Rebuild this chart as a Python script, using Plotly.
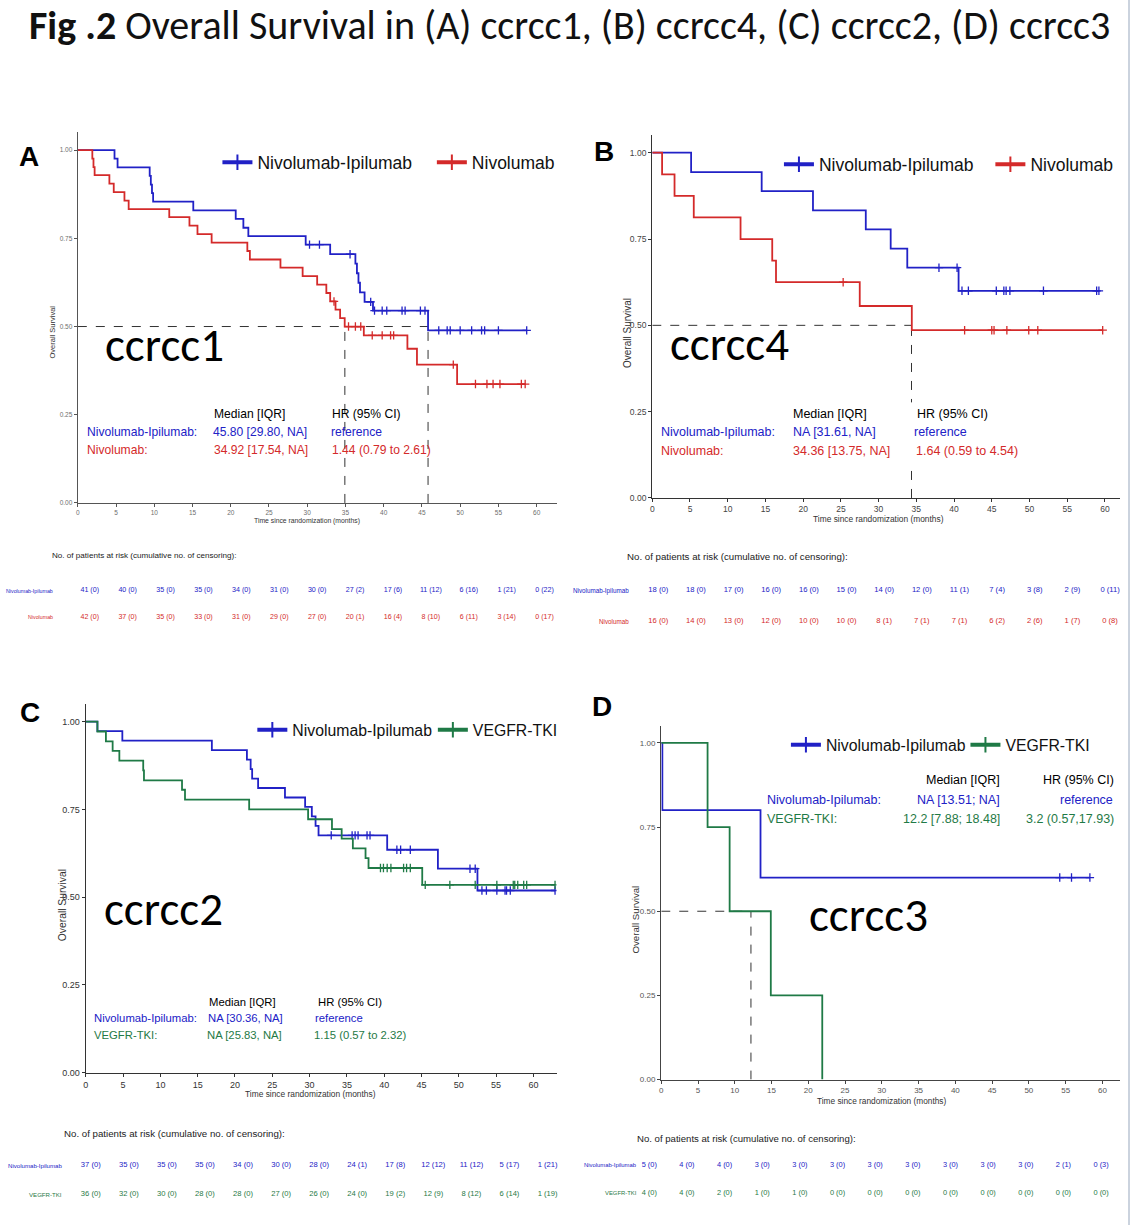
import plotly.graph_objects as go

W, H = 1133, 1230
FONT = "Liberation Sans, Arial, sans-serif"
CAL = "Carlito, Open Sans, sans-serif"

BLUE = "#2121C6"
RED = "#D42A2A"
GREEN = "#1F7A46"

# ---------------- data ----------------
risk_times = [0, 5, 10, 15, 20, 25, 30, 35, 40, 45, 50, 55, 60]

# (A) ccrcc1
A_ni_time = [0, 4.8, 5.2, 9.4, 9.55, 9.7, 9.85, 15.1, 20.65, 21.65, 22.3, 29.8, 33.0,
             36.3, 36.5, 36.7, 36.9, 37.5, 38.6, 45.8]
A_ni_surv = [1, 0.976, 0.951, 0.927, 0.902, 0.878, 0.854, 0.829, 0.805, 0.780, 0.756, 0.732,
             0.705, 0.678, 0.651, 0.624, 0.597, 0.570, 0.545, 0.489]
A_ni_end = 58.7
A_ni_cens = [30.3, 31.6, 35.6, 38.3, 38.8, 39.8, 40.4, 42.4, 42.8, 44.8, 45.4, 47.2, 48.3,
             48.7, 50.0, 51.5, 52.8, 53.2, 55.0, 58.7]
A_nv_time = [0, 1.9, 2.05, 2.2, 4.13, 4.7, 6.1, 6.65, 11.96, 14.6, 15.65, 17.5, 22.17, 22.5,
             26.5, 29.4, 31.3, 32.5, 33.0, 33.7, 34.3, 34.9, 37.4, 43.1, 44.35, 49.6]
A_nv_surv = [1, 0.976, 0.952, 0.929, 0.905, 0.881, 0.857, 0.833, 0.810, 0.786, 0.762, 0.738,
             0.714, 0.690, 0.667, 0.643, 0.619, 0.595, 0.571, 0.548, 0.524, 0.500, 0.475,
             0.437, 0.392, 0.337]
A_nv_end = 58.5
A_nv_cens = [33.5, 35.4, 36.3, 37.0, 38.5, 39.8, 40.9, 41.3, 49.1, 52.0, 53.5, 54.3, 55.2,
             58.0, 58.5]
A_median = [45.80, 34.92]
A_risk_ni = [41, 40, 35, 35, 34, 31, 30, 27, 17, 11, 6, 1, 0]
A_cens_ni = [0, 0, 0, 0, 0, 0, 0, 2, 6, 12, 16, 21, 22]
A_risk_nv = [42, 37, 35, 33, 31, 29, 27, 20, 16, 8, 6, 3, 0]
A_cens_nv = [0, 0, 0, 0, 0, 0, 0, 1, 4, 10, 11, 14, 17]

# (B) ccrcc4
B_ni_time = [0, 5.15, 14.5, 21.3, 28.3, 31.6, 33.8, 40.6]
B_ni_surv = [1, 0.944, 0.889, 0.833, 0.778, 0.722, 0.667, 0.600]
B_ni_end = 59.3
B_ni_cens = [38.0, 40.4, 41.05, 41.9, 45.6, 46.6, 46.9, 47.4, 51.85, 58.9, 59.2]
B_nv_time = [0, 1.3, 2.95, 5.5, 11.7, 15.9, 16.4, 27.5, 34.4]
B_nv_surv = [1, 0.9375, 0.875, 0.8125, 0.75, 0.6875, 0.625, 0.556, 0.486]
B_nv_end = 59.7
B_nv_cens = [25.3, 41.4, 45.0, 45.3, 47.0, 49.9, 51.1, 59.7]
B_median = [34.36]
B_risk_ni = [18, 18, 17, 16, 16, 15, 14, 12, 11, 7, 3, 2, 0]
B_cens_ni = [0, 0, 0, 0, 0, 0, 0, 0, 1, 4, 8, 9, 11]
B_risk_nv = [16, 14, 13, 12, 10, 10, 8, 7, 7, 6, 2, 1, 0]
B_cens_nv = [0, 0, 0, 0, 0, 0, 1, 1, 1, 2, 6, 7, 8]

# (C) ccrcc2
C_ni_time = [0, 1.56, 4.9, 16.9, 21.6, 22.1, 22.3, 23.1, 26.7, 29.4, 30.3, 30.8, 31.2,
             40.4, 47.2, 52.5]
C_ni_surv = [1, 0.973, 0.946, 0.919, 0.892, 0.865, 0.838, 0.811, 0.784, 0.757, 0.730,
             0.703, 0.676, 0.635, 0.581, 0.519]
C_ni_end = 62.9
C_ni_cens = [32.9, 35.7, 36.1, 36.5, 37.7, 38.1, 41.7, 42.2, 43.5, 51.5, 52.2, 53.1, 53.7,
             55.1, 56.2, 56.4, 56.9, 62.9]
C_vt_time = [0, 1.56, 2.7, 3.6, 4.5, 7.7, 7.8, 12.9, 13.3, 21.9, 29.8, 33.0, 34.3, 35.8,
             37.5, 37.9, 45.1]
C_vt_surv = [1, 0.972, 0.944, 0.917, 0.889, 0.861, 0.833, 0.806, 0.778, 0.750, 0.722,
             0.694, 0.667, 0.639, 0.611, 0.583, 0.535]
C_vt_end = 62.9
C_vt_cens = [39.5, 39.9, 40.4, 40.9, 42.6, 43.0, 43.5, 45.5, 48.8, 52.2, 55.1, 57.3, 57.5,
             57.9, 58.7, 59.1, 62.9]
C_median = []
C_risk_ni = [37, 35, 35, 35, 34, 30, 28, 24, 17, 12, 11, 5, 1]
C_cens_ni = [0, 0, 0, 0, 0, 0, 0, 1, 8, 12, 12, 17, 21]
C_risk_vt = [36, 32, 30, 28, 28, 27, 26, 24, 19, 12, 8, 6, 1]
C_cens_vt = [0, 0, 0, 0, 0, 0, 0, 0, 2, 9, 12, 14, 19]

# (D) ccrcc3
D_ni_time = [0, 0.15, 13.5]
D_ni_surv = [1, 0.8, 0.6]
D_ni_end = 58.3
D_ni_cens = [54.2, 55.8, 58.3]
D_vt_time = [0, 6.3, 9.3, 14.9, 21.9]
D_vt_surv = [1, 0.75, 0.5, 0.25, 0.0]
D_vt_end = 21.9
D_vt_cens = []
D_median = [12.2]
D_risk_ni = [5, 4, 4, 3, 3, 3, 3, 3, 3, 3, 3, 2, 0]
D_cens_ni = [0, 0, 0, 0, 0, 0, 0, 0, 0, 0, 0, 1, 3]
D_risk_vt = [4, 4, 2, 1, 1, 0, 0, 0, 0, 0, 0, 0, 0]
D_cens_vt = [0, 0, 0, 0, 0, 0, 0, 0, 0, 0, 0, 0, 0]

y_ticks = [0, 0.25, 0.5, 0.75, 1.0]
y_ticktext = ["0.00", "0.25", "0.50", "0.75", "1.00"]


# ---------------- helpers ----------------
def px_x(x):
    return x / W


def px_y(y):
    return 1 - y / H


def surv_at(times, surv, t):
    val = surv[0]
    for ti, si in zip(times, surv):
        if ti <= t:
            val = si
    return val


fig = go.Figure()
annotations = []
layout_axes = {}


def ann(text, x, y, size, color="#000000", xanchor="left", family=FONT, angle=0, yanchor="middle"):
    if xanchor == "left":
        x -= 3
    elif xanchor == "right":
        x += 3
    annotations.append(dict(text=text, x=px_x(x), y=px_y(y), xref="paper", yref="paper",
                            xanchor=xanchor, yanchor=yanchor, showarrow=False, textangle=angle,
                            font=dict(size=size, color=color, family=family)))


panels = [
    dict(idx=1, x0=75, x1=555, top=133, bottom=505, xmax=62.6, ts=6.5, tc="#6e6e6e", lc="#555555"),
    dict(idx=2, x0=651, x1=1120, top=136, bottom=500, xmax=62.0, ts=8.5, tc="#444444", lc="#333333"),
    dict(idx=3, x0=83, x1=555, top=707, bottom=1077, xmax=63.1, ts=9, tc="#333333", lc="#333333"),
    dict(idx=4, x0=660, x1=1120, top=729, bottom=1084, xmax=62.4, ts=8, tc="#555555", lc="#444444"),
]

curves = {
    1: [(A_ni_time, A_ni_surv, A_ni_end, A_ni_cens, BLUE), (A_nv_time, A_nv_surv, A_nv_end, A_nv_cens, RED)],
    2: [(B_ni_time, B_ni_surv, B_ni_end, B_ni_cens, BLUE), (B_nv_time, B_nv_surv, B_nv_end, B_nv_cens, RED)],
    3: [(C_ni_time, C_ni_surv, C_ni_end, C_ni_cens, BLUE), (C_vt_time, C_vt_surv, C_vt_end, C_vt_cens, GREEN)],
    4: [(D_ni_time, D_ni_surv, D_ni_end, D_ni_cens, BLUE), (D_vt_time, D_vt_surv, D_vt_end, D_vt_cens, GREEN)],
}
medians = {1: A_median, 2: B_median, 3: C_median, 4: D_median}

for p in panels:
    i = p["idx"]
    sx = "" if i == 1 else str(i)
    xa, ya = "x" + sx, "y" + sx
    layout_axes["xaxis" + sx] = dict(
        domain=[px_x(p["x0"]), px_x(p["x1"])], range=[0, p["xmax"]], anchor=ya,
        tickvals=risk_times, showline=True, linecolor=p["lc"], linewidth=1.2,
        ticks="outside", ticklen=3, tickcolor=p["lc"], showgrid=False, zeroline=False,
        tickfont=dict(size=p["ts"], color=p["tc"], family=FONT), fixedrange=True)
    layout_axes["yaxis" + sx] = dict(
        domain=[px_y(p["bottom"]), px_y(p["top"])], range=[0, 1.05], anchor=xa,
        tickvals=y_ticks, ticktext=y_ticktext, showline=True, linecolor=p["lc"], linewidth=1.2,
        ticks="outside", ticklen=3, tickcolor=p["lc"], showgrid=False, zeroline=False,
        tickfont=dict(size=p["ts"], color=p["tc"], family=FONT), fixedrange=True)
    m = medians[i]
    if m:
        mx, my = [0, max(m), None], [0.5, 0.5, None]
        for v in m:
            mx += [v, v, None]
            my += [0, 0.5, None]
        fig.add_trace(go.Scatter(x=mx, y=my, xaxis=xa, yaxis=ya, mode="lines",
                                 line=dict(color="#333333", width=1, dash="dash"),
                                 showlegend=False, hoverinfo="skip"))
    for (t, s, end, cens, col) in curves[i]:
        fig.add_trace(go.Scatter(x=list(t) + [end], y=list(s) + [s[-1]], xaxis=xa, yaxis=ya,
                                 mode="lines", line=dict(color=col, width=1.8, shape="hv"),
                                 showlegend=False))
        if cens:
            fig.add_trace(go.Scatter(x=cens, y=[surv_at(t, s, c) for c in cens], xaxis=xa, yaxis=ya,
                                     mode="markers", marker=dict(symbol="cross-thin", size=6,
                                                                 line=dict(color=col, width=1.3)),
                                     showlegend=False))

# ---------------- legends (one per item) ----------------
legend_items = [
    ("Nivolumab-Ipilumab", BLUE, 257, 163, 17.5),
    ("Nivolumab", RED, 472, 163, 17.5),
    ("Nivolumab-Ipilumab", BLUE, 820, 165, 17.5),
    ("Nivolumab", RED, 1032, 165, 17.5),
    ("Nivolumab-Ipilumab", BLUE, 292, 733, 15.8),
    ("VEGFR-TKI", GREEN, 473, 733, 15.8),
    ("Nivolumab-Ipilumab", BLUE, 827, 748, 15.8),
    ("VEGFR-TKI", GREEN, 1007, 748, 15.8),
]
legend_layouts = {}
for k, (name, col, tx, ty, fs) in enumerate(legend_items):
    lname = "legend" if k == 0 else "legend" + str(k + 1)
    fig.add_trace(go.Scatter(x=[None], y=[None], mode="lines+markers", name=name,
                             line=dict(color=col, width=4),
                             marker=dict(symbol="cross-thin", size=11, line=dict(color=col, width=2)),
                             legend=lname, showlegend=True))
    legend_layouts[lname] = dict(x=px_x(tx - 42), y=px_y(ty), xanchor="left", yanchor="middle",
                                 orientation="h", bgcolor="rgba(0,0,0,0)", borderwidth=0,
                                 font=dict(size=fs, color="#111111", family=FONT))

# ---------------- risk tables ----------------
tables = [
    dict(idx=5, c0=87, c1=543, r1=593, r2=620, fs=7.1, lab=49, lfs=5.3,
         rows=[("Nivolumab-Ipilumab", A_risk_ni, A_cens_ni, BLUE), ("Nivolumab", A_risk_nv, A_cens_nv, RED)],
         hx=50, hy=558, hfs=8.1),
    dict(idx=6, c0=657, c1=1110, r1=593, r2=624, fs=7.6, lab=627, lfs=6.3,
         rows=[("Nivolumab-Ipilumab", B_risk_ni, B_cens_ni, BLUE), ("Nivolumab", B_risk_nv, B_cens_nv, RED)],
         hx=627, hy=559, hfs=9.7),
    dict(idx=7, c0=88, c1=546, r1=1170, r2=1199, fs=7.6, lab=58, lfs=6.1,
         rows=[("Nivolumab-Ipilumab", C_risk_ni, C_cens_ni, BLUE), ("VEGFR-TKI", C_risk_vt, C_cens_vt, GREEN)],
         hx=62, hy=1138, hfs=9.7),
    dict(idx=8, c0=648, c1=1101, r1=1170, r2=1198, fs=7.4, lab=635, lfs=5.9,
         rows=[("Nivolumab-Ipilumab", D_risk_ni, D_cens_ni, BLUE), ("VEGFR-TKI", D_risk_vt, D_cens_vt, GREEN)],
         hx=637, hy=1143, hfs=9.6),
]
header = "No. of patients at risk (cumulative no. of censoring):"
for tb in tables:
    sx = str(tb["idx"])
    xa, ya = "x" + sx, "y" + sx
    layout_axes["xaxis" + sx] = dict(domain=[px_x(tb["c0"]), px_x(tb["c1"])], range=[0, 60],
                                     anchor=ya, visible=False, fixedrange=True)
    layout_axes["yaxis" + sx] = dict(domain=[px_y(tb["r2"]), px_y(tb["r1"])], range=[0, 1],
                                     anchor=xa, visible=False, fixedrange=True)
    for r, (lab, nrisk, ncens, col) in enumerate(tb["rows"]):
        yv = 1 - r
        fig.add_trace(go.Scatter(x=risk_times, y=[yv] * len(risk_times), xaxis=xa, yaxis=ya,
                                 mode="text", text=[f"{n} ({c})" for n, c in zip(nrisk, ncens)],
                                 textposition="middle center", cliponaxis=False,
                                 textfont=dict(size=tb["fs"], color=col, family=FONT),
                                 showlegend=False, hoverinfo="skip"))
        ann(lab, tb["lab"], tb["r1"] if r == 0 else tb["r2"], tb["lfs"], col, xanchor="right")
    ann(header, tb["hx"], tb["hy"], tb["hfs"], "#222222")

# ---------------- text blocks ----------------
fa, fb, fc, fd = 12.1, 12.5, 11.3, 12.5
ann("Median [IQR]", 213, 416, fa)
ann("HR (95% CI)", 331, 416, fa)
ann("Nivolumab-Ipilumab:", 85, 434, fa, BLUE)
ann("45.80 [29.80, NA]", 212, 434, fa, BLUE)
ann("reference", 330, 434, fa, BLUE)
ann("Nivolumab:", 85, 452, fa, RED)
ann("34.92 [17.54, NA]", 213, 452, fa, RED)
ann("1.44 (0.79 to 2.61)", 331, 452, fa, RED)

ann("Median [IQR]", 793, 416, fb)
ann("HR (95% CI)", 917, 416, fb)
ann("Nivolumab-Ipilumab:", 661, 434, fb, BLUE)
ann("NA [31.61, NA]", 793, 434, fb, BLUE)
ann("reference", 914, 434, fb, BLUE)
ann("Nivolumab:", 661, 453, fb, RED)
ann("34.36 [13.75, NA]", 793, 453, fb, RED)
ann("1.64 (0.59 to 4.54)", 916, 453, fb, RED)

ann("Median [IQR]", 208, 1006, fc)
ann("HR (95% CI)", 317, 1006, fc)
ann("Nivolumab-Ipilumab:", 92, 1022, fc, BLUE)
ann("NA [30.36, NA]", 207, 1022, fc, BLUE)
ann("reference", 314, 1022, fc, BLUE)
ann("VEGFR-TKI:", 92, 1039, fc, GREEN)
ann("NA [25.83, NA]", 206, 1039, fc, GREEN)
ann("1.15 (0.57 to 2.32)", 313, 1039, fc, GREEN)

ann("Median [IQR]", 999, 783, fd, xanchor="right")
ann("HR (95% CI)", 1113, 783, fd, xanchor="right")
ann("Nivolumab-Ipilumab:", 767, 803, fd, BLUE)
ann("NA [13.51; NA]", 999, 803, fd, BLUE, xanchor="right")
ann("reference", 1112, 803, fd, BLUE, xanchor="right")
ann("VEGFR-TKI:", 767, 822, fd, GREEN)
ann("12.2 [7.88; 18.48]", 999, 822, fd, GREEN, xanchor="right")
ann("3.2 (0.57,17.93)", 1113, 822, fd, GREEN, xanchor="right")

# axis titles
ann("Overall Survival", 50, 333, 7.5, "#333333", xanchor="center", angle=-90)
ann("Time since randomization (months)", 305, 523, 6.8, "#333333", xanchor="center")
ann("Overall Survival", 626, 334, 10, "#333333", xanchor="center", angle=-90)
ann("Time since randomization (months)", 878, 521, 8.4, "#333333", xanchor="center")
ann("Overall Survival", 59, 909, 10.3, "#333333", xanchor="center", angle=-90)
ann("Time since randomization (months)", 308, 1098, 8.4, "#333333", xanchor="center")
ann("Overall Survival", 634, 923, 9.7, "#333333", xanchor="center", angle=-90)
ann("Time since randomization (months)", 881, 1105, 8.3, "#333333", xanchor="center")

# cluster labels
ann("ccrcc1", 162, 346, 47, "#000000", xanchor="center", family=CAL)
ann("ccrcc4", 728, 345, 47, "#000000", xanchor="center", family=CAL)
ann("ccrcc2", 161, 913, 47, "#000000", xanchor="center", family=CAL)
ann("ccrcc3", 868, 919, 47, "#000000", xanchor="center", family=CAL)

# panel letters
ann("<b>A</b>", 26, 157, 28, "#000000", xanchor="center", family=FONT)
ann("<b>B</b>", 603, 152, 28, "#000000", xanchor="center", family=FONT)
ann("<b>C</b>", 27, 715, 28, "#000000", xanchor="center", family=FONT)
ann("<b>D</b>", 601, 709, 28, "#000000", xanchor="center", family=FONT)

# figure title
annotations.append(dict(
    text="<b>Fig .2</b> Overall Survival in (A) ccrcc1, (B) ccrcc4, (C) ccrcc2, (D) ccrcc3",
    x=px_x(568), y=1, xref="paper", yref="paper", xanchor="center", yanchor="top",
    borderpad=0, showarrow=False, font=dict(size=40, color="#111111", family=CAL)))

shapes = [
    dict(type="line", xref="paper", yref="paper", x0=px_x(1129), x1=px_x(1129), y0=0, y1=1,
         line=dict(color="#CBD3DE", width=2)),
    # gap in the ccrcc4 median drop line behind the HR column, as in the source figure
    dict(type="rect", xref="paper", yref="paper", x0=px_x(906), x1=px_x(916), y0=px_y(470),
         y1=px_y(404), fillcolor="white", line=dict(width=0), layer="above"),
]

fig.update_layout(
    width=W, height=H, margin=dict(l=0, r=0, t=0, b=0),
    paper_bgcolor="white", plot_bgcolor="white",
    annotations=annotations, shapes=shapes,
    **layout_axes, **legend_layouts,
)

fig.write_html("out.html", config={"displayModeBar": False, "staticPlot": True},
               post_script="document.body.style.margin='0px';")
